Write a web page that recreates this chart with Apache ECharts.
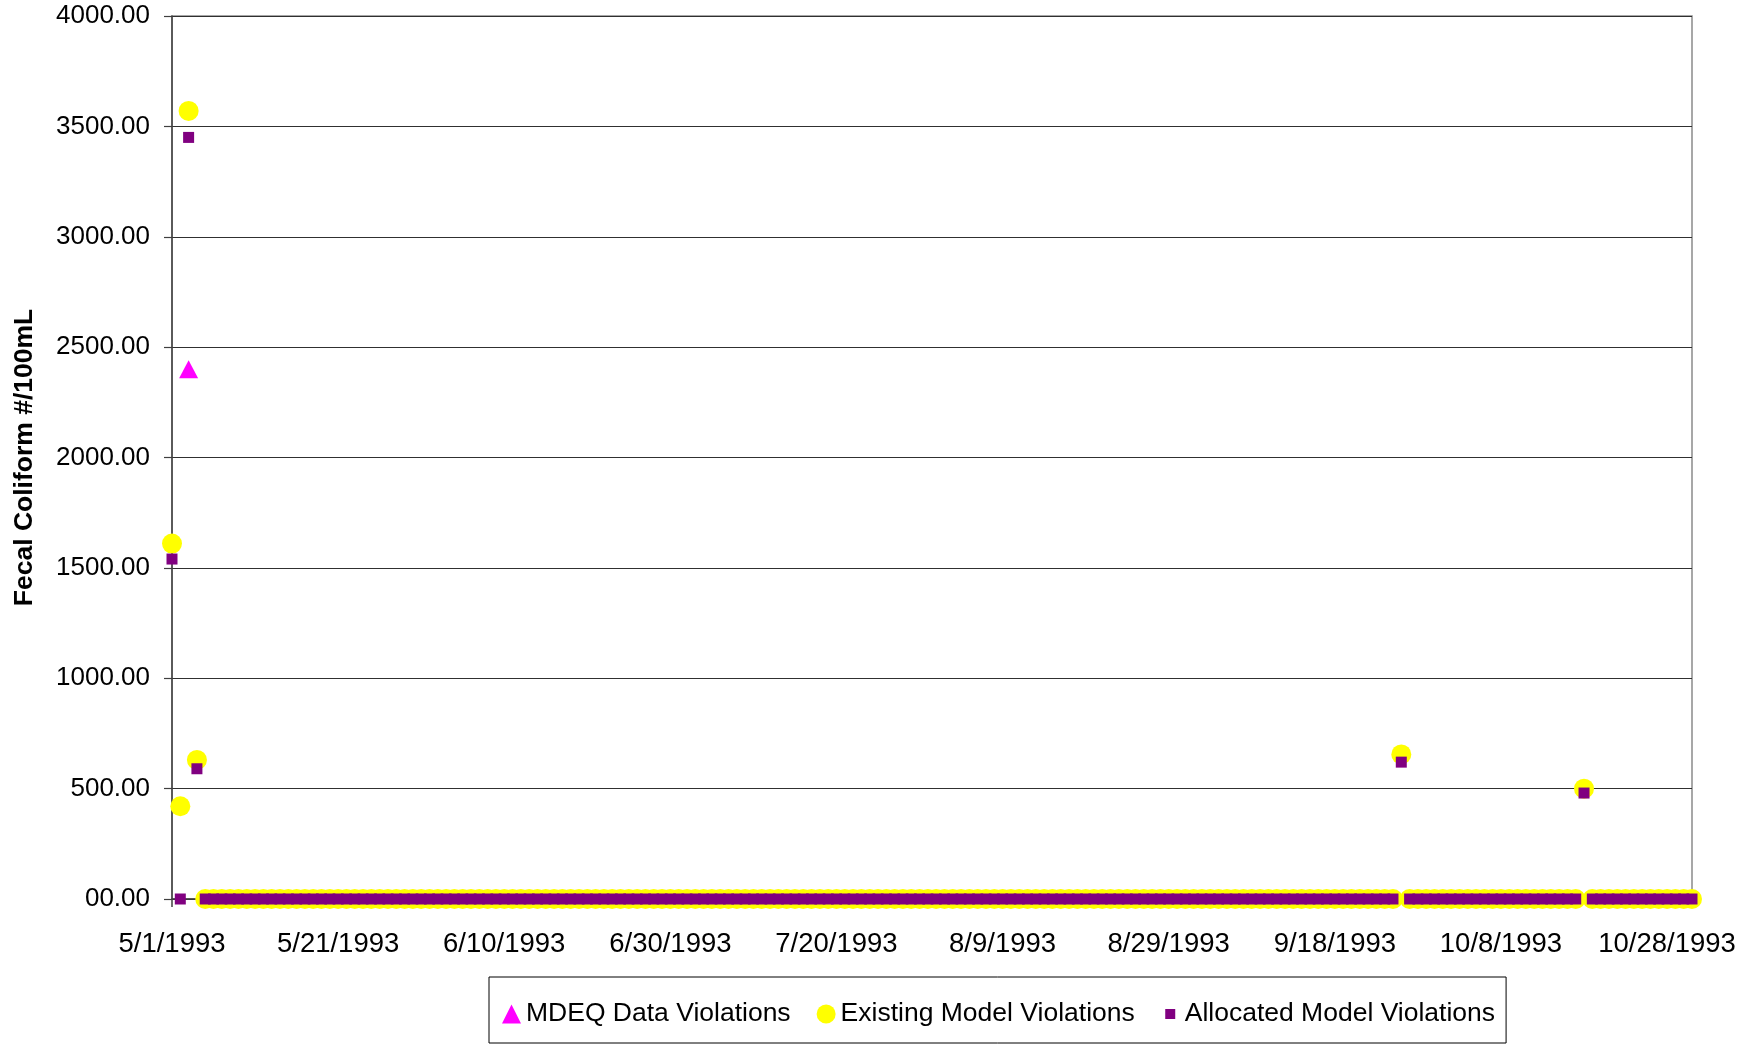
<!DOCTYPE html>
<html>
<head>
<meta charset="utf-8">
<title>Fecal Coliform Violations 1993</title>
<script src="https://cdn.jsdelivr.net/npm/echarts@6/dist/echarts.min.js"></script>
<style>
  html, body { margin: 0; padding: 0; background: #ffffff; }
  #chart { width: 1748px; height: 1047px; }
</style>
</head>
<body>
<div id="chart"></div>
<script>
// Daily series, 5/1/1993 through 10/31/1993 (index 0 = May 1).
const START_DATE = '1993-05-01';

// Existing model violations, #/100mL, one value per day, grouped by month
const existingMay = [
  1610, 420, 3570, 630, 0, 0, 0, 0, 0, 0,
  0, 0, 0, 0, 0, 0, 0, 0, 0, 0,
  0, 0, 0, 0, 0, 0, 0, 0, 0, 0, 0
];
const existingJun = [
  0, 0, 0, 0, 0, 0, 0, 0, 0, 0,
  0, 0, 0, 0, 0, 0, 0, 0, 0, 0,
  0, 0, 0, 0, 0, 0, 0, 0, 0, 0
];
const existingJul = [
  0, 0, 0, 0, 0, 0, 0, 0, 0, 0,
  0, 0, 0, 0, 0, 0, 0, 0, 0, 0,
  0, 0, 0, 0, 0, 0, 0, 0, 0, 0, 0
];
const existingAug = [
  0, 0, 0, 0, 0, 0, 0, 0, 0, 0,
  0, 0, 0, 0, 0, 0, 0, 0, 0, 0,
  0, 0, 0, 0, 0, 0, 0, 0, 0, 0, 0
];
const existingSep = [
  0, 0, 0, 0, 0, 0, 0, 0, 0, 0,
  0, 0, 0, 0, 0, 0, 0, 0, 0, 0,
  0, 0, 0, 0, 0, 655, 0, 0, 0, 0
];
const existingOct = [
  0, 0, 0, 0, 0, 0, 0, 0, 0, 0,
  0, 0, 0, 0, 0, 0, 0, 500, 0, 0,
  0, 0, 0, 0, 0, 0, 0, 0, 0, 0, 0
];

// Allocated model violations, #/100mL
const allocatedMay = [
  1540, 0, 3450, 590, 0, 0, 0, 0, 0, 0,
  0, 0, 0, 0, 0, 0, 0, 0, 0, 0,
  0, 0, 0, 0, 0, 0, 0, 0, 0, 0, 0
];
const allocatedJun = [
  0, 0, 0, 0, 0, 0, 0, 0, 0, 0,
  0, 0, 0, 0, 0, 0, 0, 0, 0, 0,
  0, 0, 0, 0, 0, 0, 0, 0, 0, 0
];
const allocatedJul = [
  0, 0, 0, 0, 0, 0, 0, 0, 0, 0,
  0, 0, 0, 0, 0, 0, 0, 0, 0, 0,
  0, 0, 0, 0, 0, 0, 0, 0, 0, 0, 0
];
const allocatedAug = [
  0, 0, 0, 0, 0, 0, 0, 0, 0, 0,
  0, 0, 0, 0, 0, 0, 0, 0, 0, 0,
  0, 0, 0, 0, 0, 0, 0, 0, 0, 0, 0
];
const allocatedSep = [
  0, 0, 0, 0, 0, 0, 0, 0, 0, 0,
  0, 0, 0, 0, 0, 0, 0, 0, 0, 0,
  0, 0, 0, 0, 0, 620, 0, 0, 0, 0
];
const allocatedOct = [
  0, 0, 0, 0, 0, 0, 0, 0, 0, 0,
  0, 0, 0, 0, 0, 0, 0, 480, 0, 0,
  0, 0, 0, 0, 0, 0, 0, 0, 0, 0, 0
];

// MDEQ sampled violations: [date, #/100mL]
const mdeqDates = ['1993-05-03'];
const mdeqValues = [2400];

// Axis tick labels
const xTickLabels = ['5/1/1993', '5/21/1993', '6/10/1993', '6/30/1993', '7/20/1993',
                     '8/9/1993', '8/29/1993', '9/18/1993', '10/8/1993', '10/28/1993'];
const xTickStep = 20;      // days between date labels
const lastDayIndex = 183;  // 10/31/1993
const yMax = 4000;
const yStep = 500;

const existing = [].concat(existingMay, existingJun, existingJul, existingAug, existingSep, existingOct);
const allocated = [].concat(allocatedMay, allocatedJun, allocatedJul, allocatedAug, allocatedSep, allocatedOct);

const DAY_MS = 86400000;
function dayIndex(iso) {
  return Math.round((Date.parse(iso + 'T00:00:00Z') - Date.parse(START_DATE + 'T00:00:00Z')) / DAY_MS);
}

const existingData = existing.map((v, i) => [i, v]);
const allocatedData = allocated.map((v, i) => [i, v]);
const mdeqData = mdeqDates.map((d, i) => [dayIndex(d), mdeqValues[i]]);

const FONT = '"Liberation Sans", Arial, Helvetica, sans-serif';

// Number format "00.00": at least two integer digits, two decimals
function fmtValue(v) {
  const s = v.toFixed(2);
  return s.length < 5 ? '0' + s : s;
}

// Small square legend icon, padded by zero-length segments so it sits inside the icon box
const smallSquareIcon = 'path://M0,0L0,0M19,19L19,19M4.5,4.5h10v10h-10z';

const chart = echarts.init(document.getElementById('chart'), null, { renderer: 'canvas' });

chart.setOption({
  animation: false,
  backgroundColor: '#ffffff',
  textStyle: { fontFamily: FONT, color: '#000' },
  grid: {
    left: 172, top: 16, right: 56, bottom: 148,
    show: true,
    borderColor: '#8a8a8a',
    borderWidth: 1.5,
    containLabel: false
  },
  xAxis: {
    type: 'value',
    min: 0,
    max: lastDayIndex,
    interval: xTickStep,
    axisLine: { show: true, onZero: false, lineStyle: { color: '#404040', width: 1.5 } },
    axisTick: { show: true, length: 8, lineStyle: { color: '#404040', width: 1.5 } },
    splitLine: { show: false },
    axisLabel: {
      margin: 31,
      fontSize: 27.5,
      fontFamily: FONT,
      color: '#000',
      showMaxLabel: false,
      formatter: v => xTickLabels[Math.round(v / xTickStep)] || ''
    }
  },
  yAxis: {
    type: 'value',
    min: 0,
    max: yMax,
    interval: yStep,
    name: 'Fecal Coliform #/100mL',
    nameLocation: 'middle',
    nameRotate: 90,
    nameGap: 134,
    nameTextStyle: { fontFamily: FONT, fontWeight: 'bold', fontSize: 26.5, color: '#000' },
    axisLine: { show: true, lineStyle: { color: '#404040', width: 1.5 } },
    axisTick: { show: true, length: 8, lineStyle: { color: '#404040', width: 1.2 } },
    splitLine: { show: true, lineStyle: { color: '#303030', width: 1 } },
    axisLabel: {
      margin: 22,
      fontSize: 26,
      fontFamily: FONT,
      color: '#000',
      padding: [5, 0, 0, 0],
      formatter: fmtValue
    }
  },
  legend: {
    left: 489,
    top: 977,
    orient: 'horizontal',
    backgroundColor: '#ffffff',
    borderColor: '#000000',
    borderWidth: 1,
    borderRadius: 0,
    padding: [22, 11, 14, 13],
    itemWidth: 19,
    itemHeight: 19,
    itemGap: 26,
    textStyle: { fontFamily: FONT, fontSize: 26.5, color: '#000', lineHeight: 30 },
    data: [
      { name: 'MDEQ Data Violations', icon: 'triangle' },
      { name: 'Existing Model Violations', icon: 'circle' },
      { name: 'Allocated Model Violations', icon: smallSquareIcon }
    ]
  },
  series: [
    {
      name: 'MDEQ Data Violations',
      type: 'scatter',
      symbol: 'triangle',
      symbolSize: [19, 18],
      itemStyle: { color: '#ff00ff', opacity: 1 },
      data: mdeqData,
      z: 4
    },
    {
      name: 'Existing Model Violations',
      type: 'scatter',
      symbol: 'circle',
      symbolSize: 20,
      itemStyle: { color: '#ffff00', opacity: 1 },
      data: existingData,
      z: 2
    },
    {
      name: 'Allocated Model Violations',
      type: 'scatter',
      symbol: 'rect',
      symbolSize: 11,
      itemStyle: { color: '#800080', opacity: 1 },
      data: allocatedData,
      z: 3
    }
  ]
});
</script>
</body>
</html>
